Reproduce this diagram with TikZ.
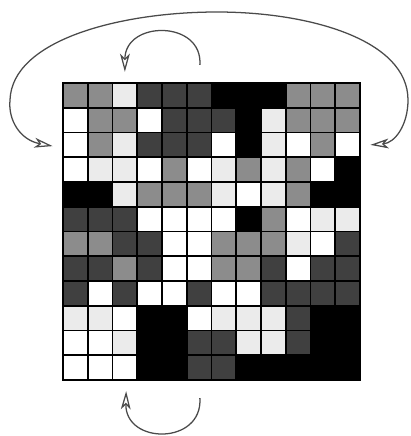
\documentclass[tikz,border=0pt]{standalone}
\usepackage{xcolor}
\usepackage{tikz}
\usetikzlibrary{arrows.meta}
\definecolor{cell0}{HTML}{FFFFFF}
\definecolor{cell1}{HTML}{EBEBEB}
\definecolor{cell2}{HTML}{8C8C8C}
\definecolor{cell3}{HTML}{404040}
\definecolor{cell4}{HTML}{000000}
\definecolor{curve}{HTML}{4A4A4A}

\begin{document}
\begin{tikzpicture}[x=0.25mm,y=-0.25mm,
    swap/.style={curve,line width=0.9pt},
    openhead/.tip={Stealth[open,length=13pt,width=7pt,inset=3.5pt]}]
  \useasboundingbox (0,0) rectangle (411,436);
  \begin{scope}[shift={(63,83)},x=6.1875mm,y=-6.1875mm]
    \foreach \row [count=\r from 0] in {
        {2,2,1,3,3,3,4,4,4,2,2,2},
        {0,2,2,0,3,3,3,4,1,2,2,2},
        {0,2,1,3,3,3,0,4,1,0,2,0},
        {0,1,1,0,2,0,1,2,1,2,0,4},
        {4,4,1,2,2,2,1,0,1,2,4,4},
        {3,3,3,0,0,0,0,4,2,0,1,1},
        {2,2,3,3,0,0,2,2,2,1,0,3},
        {3,3,2,3,0,0,2,2,3,0,3,3},
        {3,0,3,0,0,3,0,0,3,3,3,3},
        {1,1,0,4,4,0,1,1,1,3,4,4},
        {0,0,1,4,4,3,3,1,1,3,4,4},
        {0,0,0,4,4,3,3,4,4,4,4,4}}
      \foreach \v [count=\c from 0] in \row
        \filldraw[fill=cell\v,draw=black,line width=1.3pt] (\c,\r) rectangle ++(1,1);
    \draw[line width=2pt] (0,0) rectangle (12,12);
    \coordinate (west) at (-0.42,2.55);
    \coordinate (east) at (12.42,2.5);
    \coordinate (topout) at (5.53,-0.73);
    \coordinate (topin) at (2.5,-0.45);
    \coordinate (botout) at (5.53,12.73);
    \coordinate (botin) at (2.55,12.45);
  \end{scope}
  % wrap-around arrow between the two sides
  \draw[swap,openhead-openhead] (west) .. controls (20,140) and (8,120) .. (10,100)
    .. controls (12,40) and (120,12) .. (217,12)
    .. controls (310,12) and (408,40) .. (408,100)
    .. controls (408,125) and (395,143) .. (east);
  % small arcs above and below
  \draw[swap,-openhead] (topout) .. controls (203,20) and (125,20) .. (topin);
  \draw[swap,-openhead] (botout) .. controls (203,445) and (125,445) .. (botin);
\end{tikzpicture}
\end{document}
